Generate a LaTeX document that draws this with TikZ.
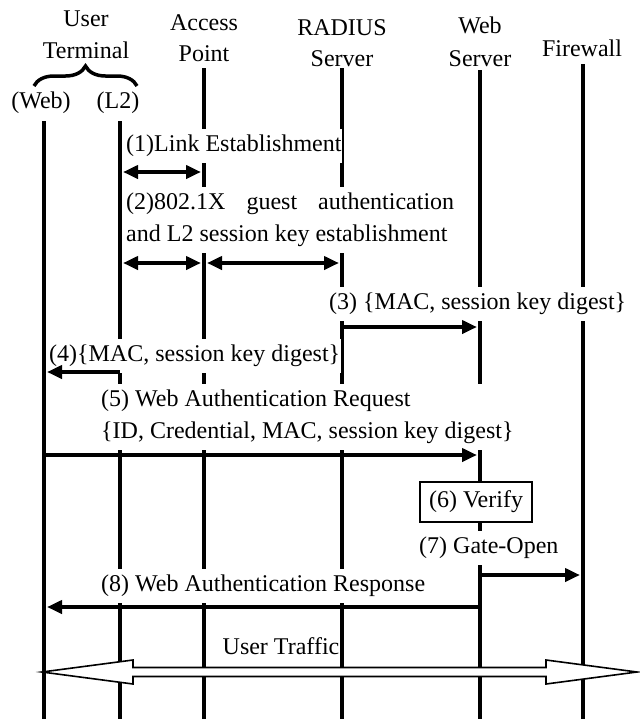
\documentclass[tikz,border=0pt]{standalone}
\usepackage{fontspec}
\setmainfont{Liberation Serif}
\usetikzlibrary{arrows.meta,decorations.pathreplacing}
\begin{document}
\begin{tikzpicture}[x=1pt,y=-1pt,
  font=\fontsize{24}{28}\selectfont,
  life/.style={line width=4pt},
  tipa/.tip={Triangle[length=15pt,width=13pt]},
  msg/.style={line width=4pt,-tipa},
  bimsg/.style={line width=4pt,tipa-tipa},
  lbl/.style={fill=white,inner xsep=1pt,inner ysep=6pt,anchor=west},
  hdr/.style={inner sep=0pt,anchor=base},
  bigarrow/.style={draw=black,fill=white,line width=1.6pt,line join=miter}]
\useasboundingbox (0,0) rectangle (640,724);

% headers
\node[hdr] (hUserA) at (86,26) {User};
\node[hdr] (hUserB) at (86,58) {Terminal};
\node[hdr] (hAPA) at (204,30) {Access};
\node[hdr] (hAPB) at (204,61) {Point};
\node[hdr] (hRadA) at (342,35) {RADIUS};
\node[hdr] (hRadB) at (342,66) {Server};
\node[hdr] (hWSA) at (480,33) {Web};
\node[hdr] (hWSB) at (480,66) {Server};
\node[hdr] (hFW) at (582,56) {Firewall};
\draw[decorate,decoration={brace,amplitude=20pt},line width=3.5pt]
  (34,86) -- (137,86);
\node[hdr] (hWeb) at (41,108) {(Web)};
\node[hdr] (hL2) at (118,108) {(L2)};

% lifelines
\coordinate (webT) at (44,121);  \coordinate (webB) at (44,719);
\coordinate (l2T) at (120,121);  \coordinate (l2B) at (120,719);
\coordinate (apT) at (204,68);   \coordinate (apB) at (204,719);
\coordinate (radT) at (342,68);  \coordinate (radB) at (342,719);
\coordinate (wsT) at (480,70);   \coordinate (wsB) at (480,719);
\coordinate (fwT) at (583,64);   \coordinate (fwB) at (583,719);
\draw[life] (webT) -- (webB);
\draw[life] (l2T) -- (l2B);
\draw[life] (apT) -- (apB);
\draw[life] (radT) -- (radB);
\draw[life] (wsT) -- (wsB);
\draw[life] (fwT) -- (fwB);

% labels
\node[lbl] (t1) at (125,146) {(1)Link Establishment};
\node[lbl,align=left] (t2) at (125,220) {\hbox to 328pt{(2)802.1X\hfill guest\hfill authentication}\\[4pt]and L2 session key establishment};
\node[lbl] (t3) at (328,304) {(3) \{MAC, session key digest\}};
\node[lbl] (t4) at (48,356) {(4)\{MAC, session key digest\}};
\node[lbl,align=left] (t5) at (100,417) {(5) Web Authentication Request\\[4pt]\{ID, Credential, MAC, session key digest\}};
\node[draw,line width=1.5pt,fill=white,minimum width=112pt,minimum height=40pt,inner sep=0pt] (verify) at (476,502) {(6) Verify};
\node[lbl] (t7) at (418,548) {(7) Gate-Open};
\node[lbl] (t8) at (100,586) {(8) Web Authentication Response};
\node[fill=white,inner xsep=1pt,inner ysep=4pt] (tu) at (281,646) {User Traffic};

% messages
\coordinate (m1a) at (123,172); \coordinate (m1b) at (201,172);
\draw[bimsg] (m1a) -- (m1b);
\coordinate (m2a) at (123,263); \coordinate (m2b) at (201,263);
\coordinate (m2c) at (207,263); \coordinate (m2d) at (339,263);
\draw[bimsg] (m2a) -- (m2b);
\draw[bimsg] (m2c) -- (m2d);
\coordinate (m3a) at (342,327); \coordinate (m3b) at (477,327);
\draw[msg] (m3a) -- (m3b);
\coordinate (m4a) at (120,372); \coordinate (m4b) at (47,372);
\draw[msg] (m4a) -- (m4b);
\coordinate (m5a) at (44,455); \coordinate (m5b) at (477,455);
\draw[msg] (m5a) -- (m5b);
\coordinate (m7a) at (480,575); \coordinate (m7b) at (580,575);
\draw[msg] (m7a) -- (m7b);
\coordinate (m8a) at (480,607); \coordinate (m8b) at (47,607);
\draw[msg] (m8a) -- (m8b);

% user traffic arrow
\draw[bigarrow] (42,672) -- (133,660) -- (133,667.5) -- (546,667.5) -- (546,660) -- (637,672)
  -- (546,684) -- (546,676.5) -- (133,676.5) -- (133,684) -- cycle;
\end{tikzpicture}
\end{document}
